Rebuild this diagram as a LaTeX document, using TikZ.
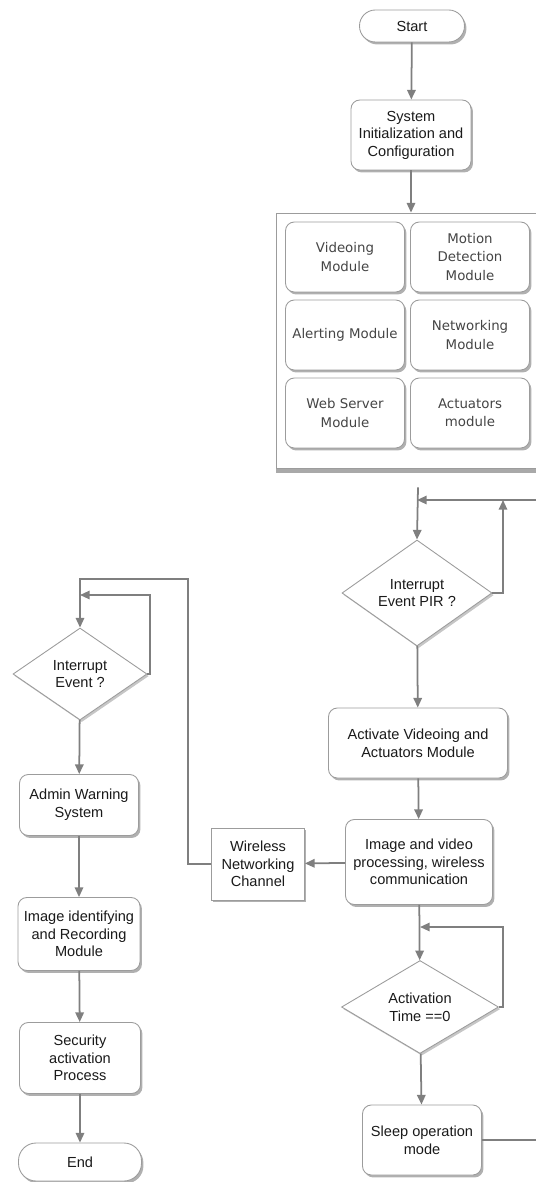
\documentclass[tikz,border=0pt]{standalone}
\usepackage{fontspec}
\setmainfont{Liberation Sans}
\newfontfamily\modfont{DejaVu Sans}
\usepackage{tikz}
\usetikzlibrary{arrows.meta,calc,shapes.geometric,shadows}
\definecolor{wire}{HTML}{7F7F7F}
\definecolor{edge}{HTML}{9C9C9C}
\definecolor{ink}{HTML}{1A1A1A}
\definecolor{soft}{HTML}{454545}
\definecolor{shade}{HTML}{707070}
\tikzset{
  proc/.style={draw=edge, fill=white, rounded corners=5pt, line width=0.5pt,
               align=center, inner sep=2pt, text=ink,
               font=\fontsize{8.3}{10}\selectfont,
               drop shadow={shadow xshift=1.1pt, shadow yshift=-1.4pt, fill=shade, opacity=0.55}},
  term/.style={proc, rounded corners=9pt},
  module/.style={proc, font=\modfont\fontsize{7.6}{10.4}\selectfont, text=soft,
                 minimum width=2.38cm, minimum height=1.4cm},
  decision/.style={diamond, draw=edge, fill=white, line width=0.5pt, align=center,
                   inner sep=0pt, text=ink, font=\fontsize{8.3}{10}\selectfont,
                   drop shadow={shadow xshift=1pt, shadow yshift=-1.2pt, fill=shade, opacity=0.4}},
  channel/.style={proc, rounded corners=0pt},
  panelbox/.style={draw=edge, fill=white, line width=0.5pt,
                   drop shadow={shadow xshift=0pt, shadow yshift=-3pt, fill=shade, opacity=0.6}},
  arrow/.style={-{Triangle[length=5.5pt,width=4.8pt]}, line width=1pt, draw=wire},
}

\begin{document}
\begin{tikzpicture}[x=0.02cm,y=-0.02cm]
  \useasboundingbox (0,0) rectangle (536,1182);
  % start and setup
  \node[term, minimum width=2.1cm, minimum height=0.64cm] (start) at (412,26) {Start};
  \node[proc, minimum width=2.4cm, minimum height=1.4cm] (sysinit) at (411,135)
    {System\\Initialization and\\Configuration};
  % module panel
  \node[panelbox, minimum width=5.68cm, minimum height=5.1cm] (modbox) at (418,340.5) {};
  \node[module] (vid) at (345,257) {Videoing\\Module};
  \node[module] (mot) at (470,257) {Motion\\Detection\\Module};
  \node[module] (alert) at (345,335) {Alerting Module};
  \node[module] (net) at (470,335) {Networking\\Module};
  \node[module] (web) at (345,413) {Web Server\\Module};
  \node[module] (actmod) at (470,413) {Actuators\\module};
  % main loop
  \node[decision, minimum width=3cm, minimum height=2.12cm] (pir) at (417,593) {Interrupt\\Event PIR ?};
  \node[proc, minimum width=3.58cm, minimum height=1.4cm] (activate) at (418,743)
    {Activate Videoing and\\Actuators Module};
  \node[proc, minimum width=2.94cm, minimum height=1.7cm] (imgproc) at (419,862)
    {Image and video\\processing, wireless\\communication};
  \node[channel, minimum width=1.86cm, minimum height=1.44cm] (wireless) at (258,864)
    {Wireless\\Networking\\Channel};
  \node[decision, minimum width=3.14cm, minimum height=1.86cm] (acttime) at (420,1007) {Activation\\Time ==0};
  \node[proc, minimum width=2.38cm, minimum height=1.4cm] (sleep) at (422,1140) {Sleep operation\\mode};
  % admin side
  \node[decision, minimum width=2.68cm, minimum height=1.84cm] (intev) at (80,674) {Interrupt\\Event ?};
  \node[proc, minimum width=2.38cm, minimum height=1.22cm] (admin) at (79,805) {Admin Warning\\System};
  \node[proc, minimum width=2.44cm, minimum height=1.46cm] (imgid) at (79,934)
    {Image identifying\\and Recording\\Module};
  \node[proc, minimum width=2.42cm, minimum height=1.42cm] (security) at (80,1058)
    {Security\\activation\\Process};
  \node[term, rounded corners=10pt, minimum width=2.46cm, minimum height=0.76cm] (endnode) at (80,1162) {End};
  % loop corners
  \coordinate (loopR) at (560,500);
  \coordinate (pirloop) at (503,500);
  \coordinate (atloop) at (503,927);
  \coordinate (wtop) at (188,579);
  \coordinate (ieloop) at (150,595);
  % arrows
  \draw[arrow] (start) -- (sysinit);
  \draw[arrow] (sysinit.south) -- (sysinit.south |- modbox.north);
  \draw[arrow] ($(modbox.south)+(0,19)$) -- (pir.north);
  \draw[arrow] (pir) -- (activate);
  \draw[arrow] (activate) -- (imgproc);
  \draw[arrow] (imgproc) -- (wireless);
  \draw[arrow] (imgproc) -- (acttime);
  \draw[arrow] (acttime) -- (sleep);
  \draw[arrow] (sleep.east) -| (loopR) -- (loopR -| pir.north);
  \draw[arrow] (pir.east) -| (pirloop);
  \draw[arrow] (acttime.east) -| (atloop) -- (atloop -| acttime.north);
  \draw[arrow] (wireless.west) -| (wtop) -| (intev.north);
  \draw[arrow] (intev.east) -| (ieloop) -- (ieloop -| intev.north);
  \draw[arrow] (intev) -- (admin);
  \draw[arrow] (admin) -- (imgid);
  \draw[arrow] (imgid) -- (security);
  \draw[arrow] (security) -- (endnode);
\end{tikzpicture}
\end{document}
